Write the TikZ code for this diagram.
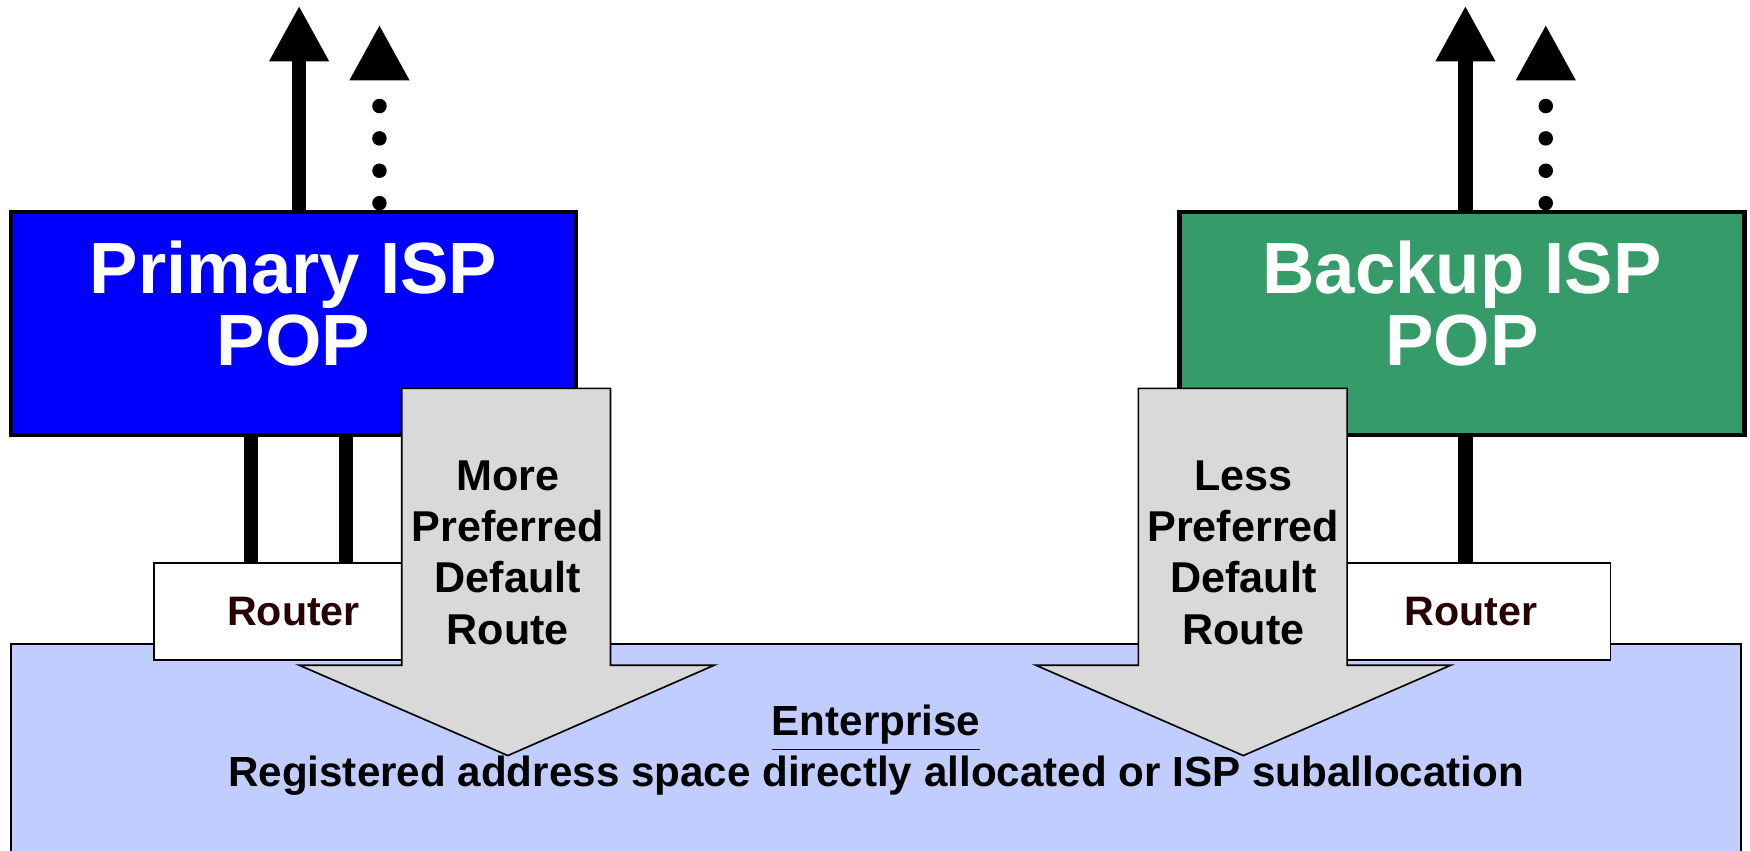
\documentclass[tikz,border=0pt]{standalone}
\usepackage{fontspec}
\setmainfont{Liberation Sans}
\usetikzlibrary{arrows.meta}
\definecolor{ispblue}{RGB}{0,0,255}
\definecolor{ispgreen}{RGB}{53,155,104}
\definecolor{entblue}{RGB}{193,205,255}
\definecolor{routegray}{RGB}{217,217,217}
\definecolor{routerbrown}{RGB}{40,0,0}
\begin{document}
\begin{tikzpicture}[x=0.1mm,y=-0.1mm,
  ispbox/.style={draw,line width=0.4mm,minimum width=50.6mm,minimum height=20mm,inner sep=0pt},
  isplabel/.style={text=white,align=center,font=\fontsize{18.5}{18.5}\selectfont\bfseries},
  routerbox/.style={draw,fill=white,line width=0.15mm,minimum width=25mm,minimum height=8.7mm,
    text=routerbrown,font=\fontsize{10.5}{12}\selectfont\bfseries},
  uplink/.style={draw,line width=1.3mm,-{Triangle[length=5mm,width=5mm]}},
  backuplink/.style={uplink,line cap=round,dash pattern=on 0pt off 2.9mm},
  link/.style={draw,line width=1.3mm},
  route/.style={draw,fill=routegray,line width=0.15mm},
  routelabel/.style={align=center,font=\fontsize{11}{13.1}\selectfont\bfseries}]
\useasboundingbox (0,0) rectangle (1568,762);
\node[draw,fill=entblue,line width=0.15mm,minimum width=155mm,minimum height=19mm,
  align=center,font=\fontsize{10.75}{12}\selectfont\bfseries] (ent) at (785,672)
  {\underline{Enterprise}\\Registered address space directly allocated or ISP suballocation};
\node[routerbox] (prouter) at (263,548) {Router};
\node[routerbox] (brouter) at (1318,548) {Router};
\node[ispbox,fill=ispblue] (pisp) at (263,290) {};
\node[ispbox,fill=ispgreen] (bisp) at (1310,290) {};
\node[isplabel] (ptext) at (263,272) {Primary ISP\\POP};
\node[isplabel] (btext) at (1310,272) {Backup ISP\\POP};
\coordinate (pl1) at (225,0);
\coordinate (pl2) at (310,0);
\coordinate (bl1) at (1313,0);
\coordinate (pup) at (268,5);
\coordinate (pdot) at (340,22);
\coordinate (bup) at (1313,5);
\coordinate (bdot) at (1385,22);
\draw[link] (pisp.south -| pl1) -- (prouter.north -| pl1);
\draw[link] (pisp.south -| pl2) -- (prouter.north -| pl2);
\draw[link] (bisp.south -| bl1) -- (brouter.north -| bl1);
\draw[uplink] (pisp.north -| pup) -- (pup);
\draw[backuplink] ([yshift=0.6mm]pisp.north -| pdot) -- (pdot);
\draw[uplink] (bisp.north -| bup) -- (bup);
\draw[backuplink] ([yshift=0.6mm]bisp.north -| bdot) -- (bdot);
\draw[route] (360,348) -- (547,348) -- (547,596) -- (640,596) -- (455,677) -- (268,596) -- (360,596) -- cycle;
\draw[route] (1020,348) -- (1207,348) -- (1207,596) -- (1300,596) -- (1114,677) -- (928,596) -- (1020,596) -- cycle;
\node[routelabel] (pref) at (455,495) {More\\Preferred\\Default\\Route};
\node[routelabel] (lref) at (1114,495) {Less\\Preferred\\Default\\Route};
\end{tikzpicture}
\end{document}
